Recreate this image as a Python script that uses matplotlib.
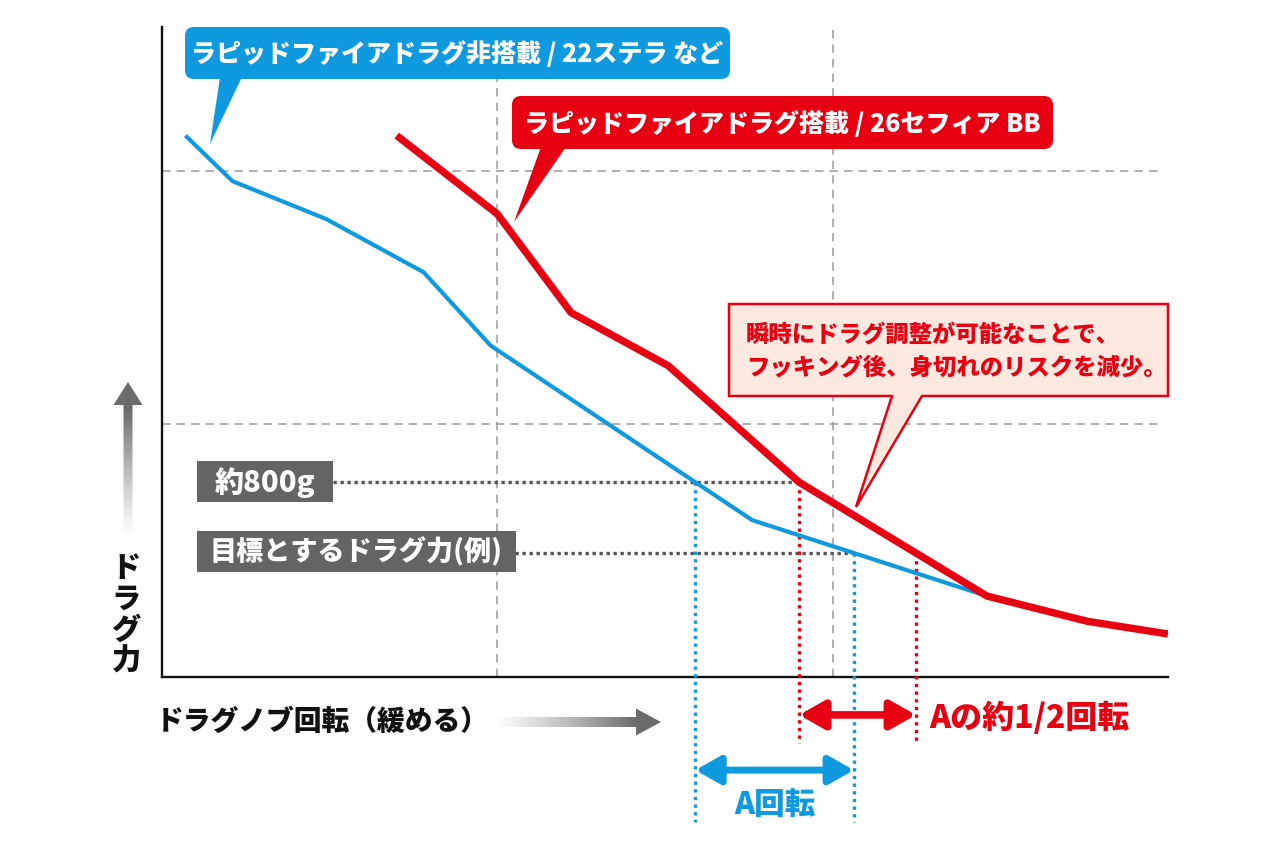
import numpy as np
import matplotlib
matplotlib.use('Agg')
import matplotlib.pyplot as plt
from matplotlib.patches import FancyBboxPatch, Polygon, Rectangle, FancyArrowPatch, ArrowStyle

plt.rcParams['font.family'] = ['Noto Sans CJK JP', 'DejaVu Sans']

# ---------------- data ----------------
blue_x = [0.07, 0.21, 0.49, 0.78, 0.98, 1.76, 2.46]
blue_y = [2.14, 1.96, 1.81, 1.60, 1.31, 0.62, 0.32]
red_x = [0.70, 1.00, 1.22, 1.51, 1.90, 2.46, 2.76, 3.00]
red_y = [2.14, 1.83, 1.44, 1.23, 0.77, 0.32, 0.22, 0.17]
level_800 = 0.77
level_target = 0.49
grid_x = [1, 2]
grid_y = [1, 2]

blue_label = 'ラピッドファイアドラグ非搭載 / 22ステラ など'
red_label = 'ラピッドファイアドラグ搭載 / 26セフィア BB'
note_lines = ['瞬時にドラグ調整が可能なことで、', 'フッキング後、身切れのリスクを減少。']
label_800 = '約800g'
label_target = '目標とするドラグ力(例)'
xlabel_text = 'ドラグノブ回転（緩める）'
ylabel_text = 'ドラグ力'
red_span_label = 'Aの約1/2回転'
blue_span_label = 'A回転'

BLUE = '#0f9ae0'
RED = '#e60012'
GRID = '#9a9a9a'
DARK = '#555555'
LABEL_BG = '#646464'
NOTE_BG = '#fce9df'
ARROW_GRAY = np.array([0.42, 0.42, 0.42])
WT = 'heavy'

W, H = 1280, 853
fig = plt.figure(figsize=(W / 100, H / 100), dpi=100)
fig.patch.set_facecolor('white')

# ---------------- main axes ----------------
ax = fig.add_axes([162 / W, (H - 678) / H, 1006 / W, 650 / H])
ax.set_xlim(0, 3)
ax.set_ylim(0, 650 / 253)
for s in ['top', 'right']:
    ax.spines[s].set_visible(False)
for s in ['left', 'bottom']:
    ax.spines[s].set_linewidth(1.7)
    ax.spines[s].set_color('#111111')
ax.set_xticks([])
ax.set_yticks([])

for gx in grid_x:
    ax.axvline(gx, color=GRID, lw=1.1, ls=(0, (5.5, 4)), zorder=1)
for gy in grid_y:
    ax.plot([0, 2.975], [gy, gy], color=GRID, lw=1.1, ls=(0, (5.5, 4)), zorder=1)

ax.plot(blue_x, blue_y, color=BLUE, lw=3.0, zorder=4, solid_capstyle='butt')
ax.plot(red_x, red_y, color=RED, lw=5.3, zorder=5, solid_capstyle='butt')


def cross(xs, ys, level):
    return float(np.interp(level, ys[::-1], xs[::-1]))


bx800 = cross(blue_x, blue_y, level_800)
rx800 = cross(red_x, red_y, level_800)
bxt = cross(blue_x, blue_y, level_target)
rxt = cross(red_x, red_y, level_target)

dot = (0, (1, 1.1))
ax.plot([0.3, rx800], [level_800] * 2, color=DARK, lw=2.4, ls=dot, zorder=3)
ax.plot([0.3, bxt], [level_target] * 2, color=DARK, lw=2.4, ls=dot, zorder=3)

y_blue_end = -0.575
y_red_end = -0.26
for xv, lv in [(bx800, level_800), (bxt, level_target)]:
    ax.plot([xv, xv], [lv, y_blue_end], color=BLUE, lw=2.4, ls=(0, (1, 1.3)),
            clip_on=False, zorder=3)
for xv, lv in [(rx800, level_800), (rxt, level_target)]:
    ax.plot([xv, xv], [lv, y_red_end], color=RED, lw=2.4, ls=(0, (1, 1.3)),
            clip_on=False, zorder=3)

y_red_arrow = -0.15
y_blue_arrow = -0.368
ra = FancyArrowPatch((rx800, y_red_arrow), (rxt, y_red_arrow),
                     arrowstyle=ArrowStyle('<|-|>', head_length=15, head_width=8.5),
                     mutation_scale=1, lw=5.5, color=RED, shrinkA=0, shrinkB=0,
                     clip_on=False, zorder=6)
ax.add_patch(ra)
ba = FancyArrowPatch((bx800, y_blue_arrow), (bxt, y_blue_arrow),
                     arrowstyle=ArrowStyle('<|-|>', head_length=15, head_width=8.5),
                     mutation_scale=1, lw=5.0, color=BLUE, shrinkA=0, shrinkB=0,
                     clip_on=False, zorder=6)
ax.add_patch(ba)

ax.text(rxt + 0.04, y_red_arrow - 0.01, red_span_label, color=RED, fontsize=23,
        fontweight=WT, ha='left', va='center', clip_on=False)
ax.text((bx800 + bxt) / 2, -0.50, blue_span_label, color=BLUE, fontsize=22,
        fontweight=WT, ha='center', va='center', clip_on=False)

# ---------------- overlay (annotation layer, pixel coords) ----------------
ov = fig.add_axes([0, 0, 1, 1])
ov.set_xlim(0, W)
ov.set_ylim(H, 0)
ov.axis('off')

# blue callout
ov.add_patch(FancyBboxPatch((185, 28), 545, 52, boxstyle='round,pad=0,rounding_size=9',
                            fc=BLUE, ec='none', zorder=5))
ov.add_patch(Polygon([(220, 78), (242, 78), (210, 145)], closed=True, fc=BLUE, ec='none', zorder=5))
ov.text(457, 54, blue_label, color='white', fontsize=18, fontweight=WT,
        ha='center', va='center', zorder=6)

# red callout
ov.add_patch(FancyBboxPatch((512, 97), 541, 53, boxstyle='round,pad=0,rounding_size=9',
                            fc=RED, ec='none', zorder=5))
ov.add_patch(Polygon([(541, 148), (566, 148), (514, 223)], closed=True, fc=RED, ec='none', zorder=5))
ov.text(782, 124, red_label, color='white', fontsize=18, fontweight=WT,
        ha='center', va='center', zorder=6)

# note callout
note_poly = [(729, 305), (1168, 305), (1168, 397), (922, 397), (856, 508), (892, 397), (729, 397)]
ov.add_patch(Polygon(note_poly, closed=True, fc=NOTE_BG, ec=RED, lw=1.8, joinstyle='miter', zorder=5))
ov.text(746, 334, note_lines[0], color=RED, fontsize=16.8, fontweight=WT,
        ha='left', va='center', zorder=6)
ov.text(746, 367, note_lines[1], color=RED, fontsize=16.8, fontweight=WT,
        ha='left', va='center', zorder=6)

# gray labels
ov.add_patch(Rectangle((197, 462), 136, 41, fc=LABEL_BG, ec='none', zorder=5))
ov.text(265, 483, label_800, color='white', fontsize=21, fontweight=WT,
        ha='center', va='center', zorder=6)
ov.add_patch(Rectangle((197, 532), 319, 41, fc=LABEL_BG, ec='none', zorder=5))
ov.text(356, 552, label_target, color='white', fontsize=19.5, fontweight=WT,
        ha='center', va='center', zorder=6)

# axis labels
ov.text(156, 722, xlabel_text, color='#111111', fontsize=20, fontweight=WT,
        ha='left', va='center', zorder=6)
for i, ch in enumerate(ylabel_text):
    ov.text(126, 568 + i * 31, ch, color='#111111', fontsize=21, fontweight=WT,
            ha='center', va='center', zorder=6)


# gradient arrows
def grad_arrow(pts, extent, alpha):
    poly = Polygon(pts, closed=True, fc='none', ec='none', transform=ov.transData)
    ov.add_patch(poly)
    img = np.zeros(alpha.shape + (4,))
    img[..., :3] = ARROW_GRAY
    img[..., 3] = alpha
    im = ov.imshow(img, extent=extent, origin='upper', aspect='auto',
                   interpolation='bilinear', zorder=4)
    im.set_clip_path(poly)


# vertical (up) arrow
ys = np.linspace(383, 540, 200)
a_up = np.clip((540 - ys) / (540 - 410), 0, 1) ** 1.2
grad_arrow([(128, 383), (142.5, 406), (132.5, 406), (132.5, 540), (123.5, 540), (123.5, 406), (113.5, 406)],
           (113, 143, 540, 383), a_up[:, None])

# horizontal (right) arrow
xs = np.linspace(492, 661, 200)
a_rt = np.clip((xs - 492) / (636 - 492), 0, 1) ** 1.2
grad_arrow([(661, 723), (636, 709.5), (636, 718), (492, 718), (492, 728), (636, 728), (636, 736.5)],
           (492, 661, 737, 709), a_rt[None, :])

ov.set_xlim(0, W)
ov.set_ylim(H, 0)

fig.savefig('out.png', dpi=100, facecolor='white')
